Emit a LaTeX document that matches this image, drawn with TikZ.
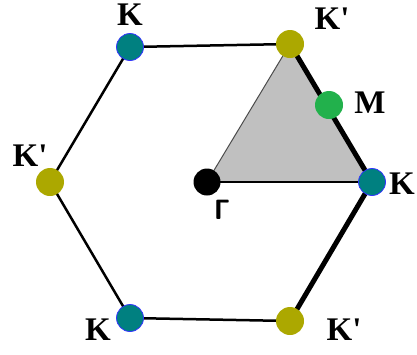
\documentclass[tikz,border=0pt]{standalone}
\usepackage{fontspec}
\setmainfont{Liberation Serif}
\definecolor{kcol}{RGB}{0,128,128}
\definecolor{kpcol}{RGB}{172,168,0}
\definecolor{mcol}{RGB}{34,177,76}
\definecolor{tri}{RGB}{192,192,192}
\newcommand{\kp}{K\textquotesingle}
\begin{document}
\begin{tikzpicture}[x=1pt,y=-1pt,
  kdot/.style={circle,fill=kcol,draw=blue!80,line width=0.8pt,minimum size=27pt,inner sep=0pt},
  kpdot/.style={circle,fill=kpcol,minimum size=28pt,inner sep=0pt},
  mdot/.style={circle,fill=mcol,minimum size=28pt,inner sep=0pt},
  gdot/.style={circle,fill=black,minimum size=27pt,inner sep=0pt},
  lab/.style={font=\fontsize{33}{33}\selectfont\bfseries,inner sep=0pt},
  thinedge/.style={line width=2.5pt,black},
  thickedge/.style={line width=5pt,black}]
\useasboundingbox (0,0) rectangle (417,354);
\coordinate (pG) at (207,182);
\coordinate (pK1) at (130,47);
\coordinate (pKp1) at (290,44);
\coordinate (pK2) at (372,182);
\coordinate (pKp2) at (290,321);
\coordinate (pK3) at (130,318);
\coordinate (pKp3) at (50,182);
\coordinate (pM) at (329,105);
% triangle
\fill[tri] (pG) -- (pKp1) -- (pK2) -- cycle;
\draw[line width=1pt,black!70] (pG) -- (pKp1);
\draw[line width=1.8pt,black] (pG) -- (pK2);
% hexagon
\draw[thinedge] (pK1) -- (pKp1);
\draw[thinedge] (pKp2) -- (pK3) -- (pKp3) -- (pK1);
\draw[thickedge] (pKp1) -- (pK2) -- (pKp2);
% dots
\node[kdot] (K1) at (pK1) {};
\node[kpdot] (Kp1) at (pKp1) {};
\node[kdot] (K2) at (pK2) {};
\node[kpdot] (Kp2) at (pKp2) {};
\node[kdot] (K3) at (pK3) {};
\node[kpdot] (Kp3) at (pKp3) {};
\node[mdot] (M) at (pM) {};
\node[gdot] (G) at (pG) {};
% labels
\node[lab] (lK1) at (130,15) {K};
\node[lab] (lKp1) at (332,19) {\kp};
\node[lab] (lM) at (370,103) {M};
\node[lab,anchor=west] (lK2) at (389,184) {K};
\node[lab] (lKp3) at (30,156) {\kp};
\node[lab] (lK3) at (98,330) {K};
\node[lab] (lKp2) at (344,330) {\kp};
\node[font=\fontsize{28}{28}\selectfont\bfseries\sffamily,inner sep=0pt] (lG) at (222,210) {Γ};
\end{tikzpicture}
\end{document}
